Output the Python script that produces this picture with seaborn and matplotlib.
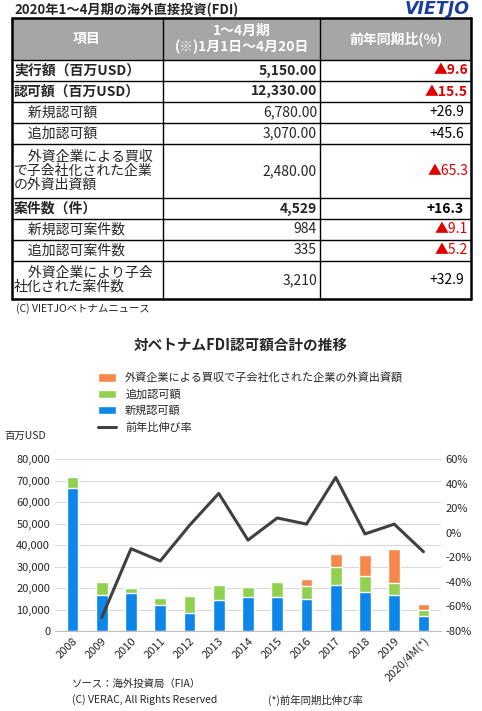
import matplotlib
matplotlib.use("Agg")
import matplotlib.pyplot as plt
import seaborn as sns
import numpy as np
import pandas as pd
from matplotlib.patches import Rectangle

sns.set_style("white")
plt.rcParams['font.family'] = ['Noto Sans CJK JP', 'DejaVu Sans']

years = ["2008","2009","2010","2011","2012","2013","2014","2015","2016","2017","2018","2019","2020/4M(*)"]
new_reg = [66500,16800,17900,12100,8600,14300,15600,15700,15100,21300,18100,16700,6780]
add_reg = [4900,5900,2000,3200,7800,7300,4700,7000,5700,8400,7600,5800,3070]
mna = [0,0,0,0,0,0,0,0,3600,6100,9800,15500,2480]
growth = [np.nan,-69,-13,-23,6,32,-6,12,7,45,-1,7,-15.5]

tbl_items = ["実行額（百万USD）","認可額（百万USD）","　新規認可額","　追加認可額",
             "　外資企業による買収\nで子会社化された企業\nの外資出資額","案件数（件）",
             "　新規認可案件数","　追加認可案件数","　外資企業により子会\n社化された案件数"]
tbl_vals = ["5,150.00","12,330.00","6,780.00","3,070.00","2,480.00","4,529","984","335","3,210"]
tbl_yoy = ["▲9.6","▲15.5","+26.9","+45.6","▲65.3","+16.3","▲9.1","▲5.2","+32.9"]
bold_rows = [0,1,5]

W, H = 482, 711
fig = plt.figure(figsize=(W/100, H/100), dpi=100)
def fx(x): return x/W
def fy(y): return 1-y/H

# table
fig.text(fx(14), fy(10), "2020年1～4月期の海外直接投資(FDI)", fontsize=9.5, fontweight='bold', va='center')
fig.text(fx(470), fy(9), "VIETJO", fontsize=12.5, fontweight='bold', style='italic', color='#1a3d9e', ha='right', va='center', family='DejaVu Sans')
cols = [12, 163, 320, 471]
rows = [18, 60, 81, 102, 123, 144, 198, 219, 240, 261, 299]
fig.patches.append(Rectangle((fx(12), fy(60)), fx(459), fy(18)-fy(60), transform=fig.transFigure, facecolor='#a6a6a6', edgecolor='none'))
for y in rows:
    fig.add_artist(plt.Line2D([fx(12), fx(471)], [fy(y), fy(y)], color='black', lw=1.0 if y not in (18,299) else 1.8))
for x in cols:
    fig.add_artist(plt.Line2D([fx(x), fx(x)], [fy(18), fy(299)], color='black', lw=1.0 if x not in (12,471) else 1.8))
fig.text(fx(87), fy(39), "項目", color='white', fontsize=10, fontweight='bold', ha='center', va='center')
fig.text(fx(242), fy(39), "1～4月期\n(※)1月1日～4月20日", color='white', fontsize=10, fontweight='bold', ha='center', va='center', linespacing=1.2)
fig.text(fx(396), fy(39), "前年同期比(%)", color='white', fontsize=10, fontweight='bold', ha='center', va='center')
for i in range(9):
    yc = (rows[i+1]+rows[i+2])/2
    b = 'bold' if i in bold_rows else 'normal'
    fig.text(fx(14), fy(yc), tbl_items[i], fontsize=10, fontweight=b, va='center', linespacing=1.0)
    fig.text(fx(317), fy(yc), tbl_vals[i], fontsize=10, fontweight=b, va='center', ha='right')
    c = '#e00000' if tbl_yoy[i].startswith('▲') else 'black'
    ha_x = 468 if c != 'black' else 464
    fig.text(fx(ha_x), fy(yc), tbl_yoy[i], fontsize=10, fontweight=b, va='center', ha='right', color=c)
fig.text(fx(16), fy(309), "(C) VIETJOベトナムニュース", fontsize=7.5, va='center')

# chart
fig.text(fx(241), fy(345), "対ベトナムFDI認可額合計の推移", fontsize=10.5, fontweight='bold', ha='center', va='center')
df = pd.DataFrame({"year": years, "new": new_reg, "add": add_reg, "mna": mna})
df["t2"] = df["new"] + df["add"]
df["t3"] = df["t2"] + df["mna"]
ax = fig.add_axes([fx(55), fy(631), fx(441)-fx(55), fy(459)-fy(631)])
c_new, c_add, c_mna = '#0c86e8', '#92d050', '#f7884a'
sns.barplot(data=df, x="year", y="t3", color=c_mna, ax=ax, width=0.4, saturation=1, label="外資企業による買収で子会社化された企業の外資出資額")
sns.barplot(data=df, x="year", y="t2", color=c_add, ax=ax, width=0.4, saturation=1, label="追加認可額")
sns.barplot(data=df, x="year", y="new", color=c_new, ax=ax, width=0.4, saturation=1, label="新規認可額")
ax.set_ylim(0, 80000)
ax.set_yticks(range(0, 80001, 10000))
ax.set_yticklabels([f"{v:,}" for v in range(0, 80001, 10000)], fontsize=8)
ax.grid(axis='y', color='#d9d9d9', lw=0.8)
ax.set_axisbelow(True)
ax.set_xlabel(""); ax.set_ylabel("")
ax.tick_params(axis='x', labelsize=8, length=0)
ax.tick_params(axis='y', length=0)
plt.setp(ax.get_xticklabels(), rotation=45, ha='right', rotation_mode='anchor')
for s in ['top', 'right', 'left']:
    ax.spines[s].set_visible(False)
ax.spines['bottom'].set_color('#bfbfbf')
ax.set_xlim(-0.6, 12.6)
ax2 = ax.twinx()
sns.lineplot(x=np.arange(len(years)), y=growth, ax=ax2, color='#404040', lw=2.2, label="前年比伸び率", legend=False)
ax2.set_ylim(-80, 60)
ax2.set_yticks(range(-80, 61, 20))
ax2.set_yticklabels([f"{v}%" for v in range(-80, 61, 20)], fontsize=8)
ax2.tick_params(axis='y', length=0)
for s in ['top', 'right', 'left', 'bottom']:
    ax2.spines[s].set_visible(False)
ax.get_legend().remove() if ax.get_legend() else None
h1, l1 = ax.get_legend_handles_labels()
h2, l2 = ax2.get_legend_handles_labels()
fig.legend(h1 + h2, l1 + l2, loc='upper left', bbox_to_anchor=(fx(94), fy(368)), frameon=False, fontsize=8,
           handlelength=1.6, handleheight=0.8, labelspacing=0.55, borderaxespad=0)
fig.text(fx(4), fy(436), "百万USD", fontsize=7.5, va='center')
fig.text(fx(72), fy(684), "ソース：海外投資局（FIA）", fontsize=7.5, va='center')
fig.text(fx(72), fy(700), "(C) VERAC, All Rights Reserved", fontsize=7.5, va='center')
fig.text(fx(268), fy(700), "(*)前年同期比伸び率", fontsize=7.5, va='center')
fig.savefig("out.png", dpi=100)
